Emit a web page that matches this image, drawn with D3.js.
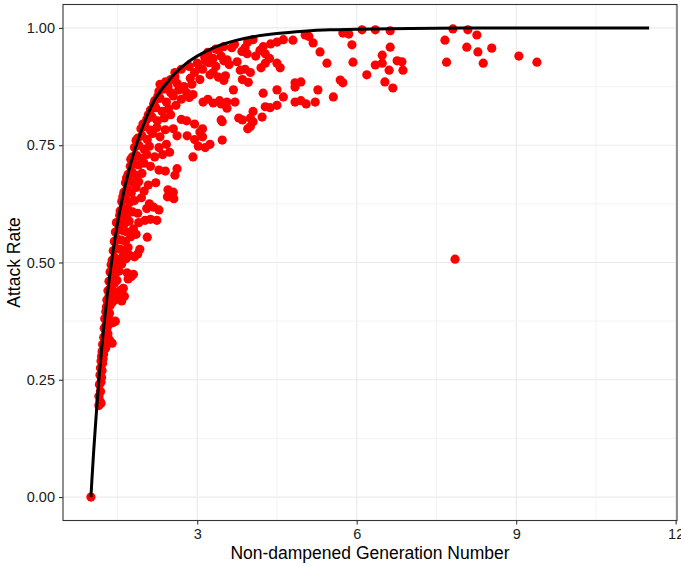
<!DOCTYPE html>
<html>
<head>
<meta charset="utf-8">
<script src="https://cdn.jsdelivr.net/npm/d3@7"></script>
<style>
  body { margin: 0; background: #fff; }
  text { font-family: "Liberation Sans", Arial, sans-serif; }
</style>
</head>
<body>
<div id="container"></div>
<script>
//observed epidemics: [generation number, attack rate]
var observed = [
  [1.00,0.000],
  [1.15,0.195],[1.17,0.205],[1.19,0.200],[1.15,0.215],[1.18,0.225],[1.16,0.240],[1.19,0.245],[1.17,0.260],
  [1.20,0.255],[1.18,0.275],[1.21,0.270],[1.19,0.290],[1.22,0.285],[1.20,0.300],[1.23,0.295],
  [1.21,0.310],[1.24,0.305],[1.22,0.325],[1.25,0.320],[1.28,0.318],[1.30,0.330],[1.35,0.335],[1.40,0.328],
  [1.24,0.340],[1.27,0.345],[1.29,0.350],[1.32,0.348],[1.25,0.360],[1.28,0.365],[1.31,0.362],[1.36,0.370],
  [1.26,0.380],[1.29,0.378],[1.33,0.385],[1.42,0.372],[1.46,0.375],[1.28,0.395],[1.31,0.398],[1.35,0.392],
  [1.29,0.405],[1.32,0.410],[1.36,0.408],[1.40,0.415],[1.30,0.420],[1.34,0.428],[1.45,0.420],[1.52,0.425],
  [1.58,0.418],[1.63,0.428],[1.32,0.440],[1.37,0.445],[1.42,0.438],[1.55,0.440],[1.61,0.445],[1.34,0.460],
  [1.39,0.465],[1.44,0.455],[1.49,0.462],[1.70,0.465],[1.76,0.470],[1.36,0.480],[1.41,0.485],[1.47,0.478],
  [1.53,0.482],[1.68,0.478],[1.80,0.475],[1.38,0.495],[1.44,0.498],[1.50,0.492],[1.58,0.497],
  [1.40,0.505],[1.45,0.510],[1.52,0.505],[1.60,0.512],[1.66,0.508],[1.73,0.515],[1.82,0.512],[1.88,0.518],
  [1.42,0.525],[1.48,0.530],[1.55,0.528],[1.63,0.525],[1.70,0.532],[1.92,0.528],[1.44,0.545],[1.50,0.550],
  [1.57,0.548],[1.65,0.545],[1.75,0.555],[1.85,0.560],[2.06,0.554],[1.46,0.565],[1.52,0.570],[1.60,0.568],
  [1.68,0.565],[1.80,0.572],[1.48,0.585],[1.55,0.590],[1.63,0.582],[1.72,0.588],[1.90,0.585],[2.02,0.590],
  [2.12,0.592],[2.24,0.590],[1.54,0.600],[1.58,0.600],[1.67,0.596],
  [1.55,0.610],[1.61,0.615],[1.70,0.612],[1.78,0.608],[1.88,0.605],[2.05,0.615],[2.18,0.618],[2.28,0.612],
  [1.58,0.630],[1.65,0.635],[1.73,0.628],[1.82,0.632],[1.95,0.638],[2.10,0.625],[1.62,0.650],[1.68,0.655],
  [1.76,0.648],[1.85,0.660],[2.00,0.652],[2.45,0.655],[2.55,0.650],[2.44,0.640],[2.56,0.636],[1.65,0.670],
  [1.72,0.675],[1.80,0.668],[1.90,0.672],[2.08,0.665],[2.22,0.670],[1.70,0.688],[1.78,0.692],[1.86,0.685],
  [1.96,0.690],[2.58,0.686],[2.40,0.695],[2.28,0.697],[2.62,0.700],[1.60,0.640],[1.67,0.680],
  [1.74,0.705],[1.82,0.710],[1.90,0.708],[2.00,0.712],[2.12,0.705],[1.78,0.725],[1.86,0.728],[1.95,0.722],
  [2.05,0.730],[2.20,0.725],[2.35,0.730],[2.48,0.735],[2.92,0.725],[1.82,0.745],[1.90,0.750],[2.00,0.742],
  [2.10,0.748],[2.28,0.745],[2.42,0.752],[3.02,0.748],[3.15,0.745],[3.24,0.752],[1.88,0.765],[1.96,0.770],
  [2.06,0.762],[2.16,0.775],[2.30,0.768],[2.62,0.770],[2.81,0.770],[2.95,0.762],[3.10,0.768],[3.47,0.761],
  [1.94,0.785],[2.02,0.790],[2.12,0.782],[2.24,0.788],[2.40,0.783],[2.55,0.785],[1.75,0.720],[1.85,0.760],
  [2.05,0.805],[2.15,0.810],[2.25,0.802],[2.38,0.808],[2.50,0.815],[2.70,0.805],[3.47,0.800],[3.85,0.804],
  [4.00,0.808],[4.22,0.810],[2.12,0.825],[2.22,0.830],[2.34,0.822],[2.46,0.828],[2.60,0.835],[3.30,0.840],
  [3.45,0.838],[3.56,0.842],[3.71,0.842],[4.28,0.832],[4.37,0.830],[4.05,0.822],[2.20,0.845],[2.30,0.850],
  [2.42,0.842],[2.55,0.855],[2.70,0.848],[2.85,0.852],[3.11,0.842],[4.50,0.835],[2.28,0.865],[2.38,0.870],
  [2.50,0.862],[2.65,0.868],[2.80,0.862],[2.92,0.858],[3.68,0.868],[4.24,0.861],[4.50,0.868],[4.62,0.853],
  [4.84,0.842],[4.95,0.845],[5.05,0.838],[5.22,0.842],[5.27,0.868],[5.56,0.853],[2.40,0.885],[2.50,0.890],
  [2.62,0.882],[2.87,0.893],[3.05,0.890],[3.24,0.900],[3.40,0.895],[3.53,0.898],[5.69,0.889],[5.74,0.883],
  [4.84,0.883],[4.95,0.885],[4.84,0.874],[2.30,0.880],[2.45,0.875],[2.26,0.855],[2.18,0.838],[2.08,0.815],
  [1.98,0.795],[2.75,0.875],[2.90,0.880],[3.20,0.848],[3.42,0.845],[3.56,0.829],[2.80,0.802],[2.95,0.795],
  [3.10,0.785],[3.45,0.804],[3.78,0.808],[3.95,0.785],[3.05,0.778],[4.00,0.790],[4.05,0.800],
  [2.58,0.905],[2.70,0.912],[2.85,0.918],[3.00,0.925],[3.15,0.930],[3.30,0.935],[3.45,0.940],[3.56,0.932],
  [3.81,0.910],[3.90,0.912],[4.00,0.905],[2.95,0.905],[3.10,0.912],[3.35,0.918],[3.60,0.922],[3.75,0.928],
  [3.94,0.945],[3.84,0.950],[3.90,0.958],[4.10,0.940],[4.24,0.960],[4.38,0.966],[4.50,0.970],[4.62,0.975],
  [4.80,0.974],[5.03,0.985],[5.10,0.982],[5.18,0.968],[5.31,0.949],[5.44,0.925],[5.74,0.989],[5.85,0.987],
  [5.91,0.964],[5.93,0.927],[4.28,0.925],[4.36,0.935],[4.50,0.925],[4.56,0.915],[4.20,0.915],[4.28,0.945],
  [4.18,0.952],[3.20,0.948],[3.35,0.955],[3.50,0.960],[3.65,0.958],[3.70,0.965],[3.95,0.970],[4.05,0.975],
  [3.04,0.915],[3.40,0.953],[3.50,0.930],[3.14,0.938],[3.22,0.926],[3.30,0.905],[3.50,0.888],[3.85,0.890],
  [3.96,0.884],[2.58,0.896],
  [6.10,0.996],[6.35,0.996],[6.63,0.994],[6.63,0.959],[6.48,0.942],[6.35,0.921],[6.48,0.925],[6.76,0.930],
  [6.85,0.928],[6.61,0.910],[6.87,0.910],[6.19,0.900],[6.53,0.885],[6.68,0.872],[7.66,0.974],[7.81,0.998],
  [8.09,0.996],[8.26,0.985],[8.07,0.959],[8.28,0.949],[8.54,0.957],[7.69,0.927],[8.38,0.925],[9.05,0.940],
  [9.39,0.927],[7.85,0.507]
];

//theoretical final size curve
var curveX = [1.00,1.02,1.05,1.10,1.15,1.20,1.30,1.40,1.50,1.60,1.70,1.80,1.90,2.00,2.20,2.40,2.60,2.80,
              3.00,3.25,3.50,3.75,4.00,4.50,5.00,5.50,6.00,7.00,8.00,9.00,10.00,11.50];
var curveY = [0.000,0.039,0.094,0.176,0.250,0.314,0.423,0.511,0.583,0.641,0.690,0.731,0.766,0.797,0.847,
              0.879,0.905,0.925,0.940,0.955,0.966,0.974,0.980,0.988,0.993,0.996,0.997,0.999,1.000,1.000,1.000,1.000];

var xTicks = [3, 6, 9, 12];
var xMinor = [1.5, 4.5, 7.5, 10.5];
var yTicks = [0, 0.25, 0.5, 0.75, 1];
var yMinor = [0.125, 0.375, 0.625, 0.875];

var width = 681, height = 566;
var panel = {left: 63, right: 677, top: 4.5, bottom: 520.5};

var svg = d3.select("#container")
    .append("svg")
    .attr("width", width)
    .attr("height", height);

var x = d3.scaleLinear().domain([0.475, 12.025]).range([panel.left, panel.right]);
var y = d3.scaleLinear().domain([-0.05, 1.05]).range([panel.bottom, panel.top]);

//grid lines
var grid = svg.append("g");
grid.selectAll(".minorX").data(xMinor).enter().append("line")
    .attr("x1", d => x(d)).attr("x2", d => x(d))
    .attr("y1", panel.top).attr("y2", panel.bottom)
    .attr("stroke", "#ebebeb").attr("stroke-width", 0.6);
grid.selectAll(".minorY").data(yMinor).enter().append("line")
    .attr("y1", d => y(d)).attr("y2", d => y(d))
    .attr("x1", panel.left).attr("x2", panel.right)
    .attr("stroke", "#ebebeb").attr("stroke-width", 0.6);
grid.selectAll(".majorX").data(xTicks).enter().append("line")
    .attr("x1", d => x(d)).attr("x2", d => x(d))
    .attr("y1", panel.top).attr("y2", panel.bottom)
    .attr("stroke", "#ebebeb").attr("stroke-width", 1.2);
grid.selectAll(".majorY").data(yTicks).enter().append("line")
    .attr("y1", d => y(d)).attr("y2", d => y(d))
    .attr("x1", panel.left).attr("x2", panel.right)
    .attr("stroke", "#ebebeb").attr("stroke-width", 1.2);

//points
svg.append("g").selectAll("circle")
    .data(observed)
    .enter()
    .append("circle")
    .attr("cx", d => x(d[0]))
    .attr("cy", d => y(d[1]))
    .attr("r", 4.6)
    .attr("fill", "#ff0000");

//curve on top
var line = d3.line()
    .x((d, i) => x(curveX[i]))
    .y(d => y(d))
    .curve(d3.curveMonotoneX);

svg.append("path")
    .datum(curveY)
    .attr("d", line)
    .attr("fill", "none")
    .attr("stroke", "#000")
    .attr("stroke-width", 3);

//panel border
svg.append("rect")
    .attr("x", panel.left).attr("y", panel.top)
    .attr("width", panel.right - panel.left)
    .attr("height", panel.bottom - panel.top)
    .attr("fill", "none")
    .attr("stroke", "#333")
    .attr("stroke-width", 1.1);

//axes
var xAxis = svg.append("g")
    .attr("transform", "translate(0," + panel.bottom + ")")
    .call(d3.axisBottom(x).tickValues(xTicks).tickSize(4).tickPadding(4).tickFormat(d3.format("d")));
var yAxis = svg.append("g")
    .attr("transform", "translate(" + panel.left + ",0)")
    .call(d3.axisLeft(y).tickValues(yTicks).tickSize(4).tickPadding(4).tickFormat(d3.format(".2f")));

[xAxis, yAxis].forEach(function(a) {
    a.select(".domain").remove();
    a.selectAll(".tick line").attr("stroke", "#333").attr("stroke-width", 1.1);
    a.selectAll(".tick text")
        .attr("fill", "#1a1a1a")
        .style("font-size", "14.5px")
        .style("font-family", "'Liberation Sans', Arial, sans-serif");
});

//axis titles
svg.append("text")
    .attr("x", (panel.left + panel.right) / 2)
    .attr("y", 559)
    .attr("text-anchor", "middle")
    .style("font-size", "17.5px")
    .text("Non-dampened Generation Number");

svg.append("text")
    .attr("transform", "translate(20," + ((panel.top + panel.bottom) / 2) + ") rotate(-90)")
    .attr("text-anchor", "middle")
    .style("font-size", "17.5px")
    .text("Attack Rate");
</script>
</body>
</html>
